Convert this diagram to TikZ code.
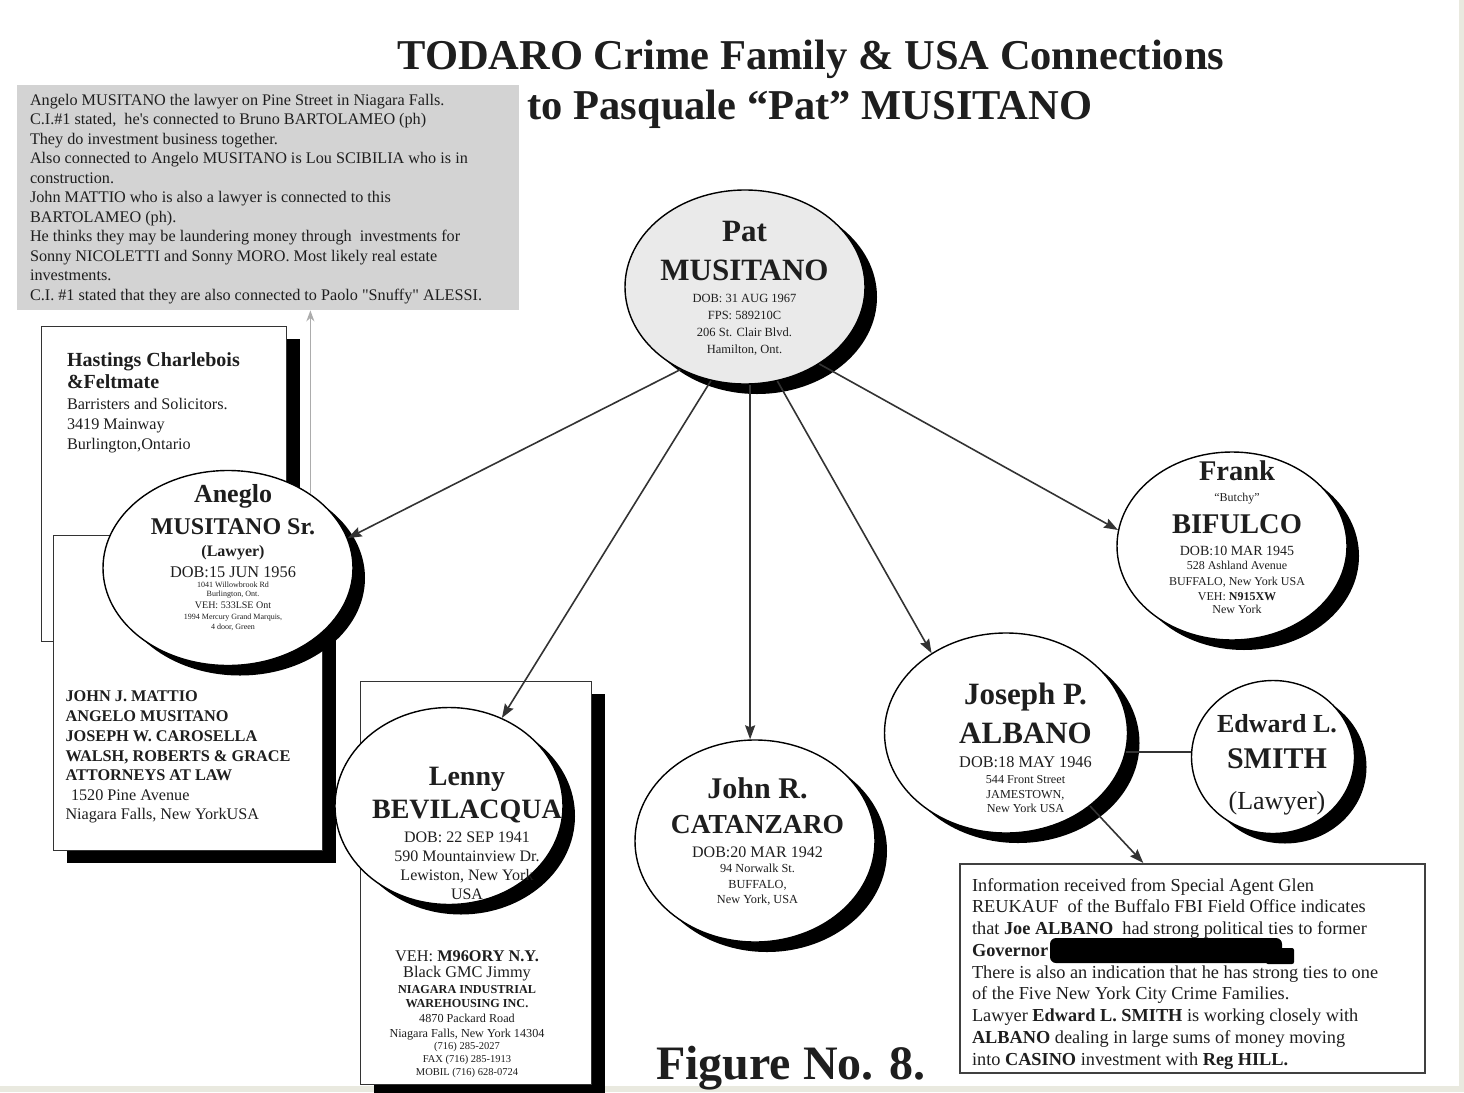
\documentclass[tikz,border=0pt]{standalone}
\usepackage{fontspec}
\setmainfont{Liberation Serif}[Ligatures=TeXOff]
\usetikzlibrary{shapes.geometric,shadows,arrows.meta}
\definecolor{ink}{HTML}{1E1E1E}
\definecolor{boxgray}{HTML}{D3D3D3}
\definecolor{patfill}{HTML}{EAEAEA}
\definecolor{edgebg}{HTML}{E9E9DF}
\definecolor{arrowc}{HTML}{333333}
\newcommand\fsz[1]{\fontsize{#1}{#1}\selectfont}
\newcounter{ln}
\newcommand\Ltxt[3]{\stepcounter{ln}\node[txt,anchor=base west] (ln\arabic{ln}) at (#1,#2) {#3};}
\newcommand\Ctxt[3]{\stepcounter{ln}\node[txt,anchor=base] (ln\arabic{ln}) at (#1,#2) {#3};}
\tikzset{
  txt/.style={inner sep=0pt, outer sep=0pt, text=ink},
  person/.style={ellipse, draw=black, line width=1.4pt, fill=white, inner sep=0pt,
    drop shadow={shadow xshift=12pt, shadow yshift=-10pt, fill=black, opacity=1}},
  card/.style={rectangle, draw=black!80, line width=1.3pt, fill=white, inner sep=0pt, anchor=north west,
    drop shadow={shadow xshift=13pt, shadow yshift=-12pt, fill=black, opacity=1}},
  link/.style={draw=arrowc, line width=1.6pt, -{Stealth[length=14pt,width=10pt,inset=2pt]}},
}
\begin{document}
\begin{tikzpicture}[x=1pt,y=-1pt]
\useasboundingbox (0,0) rectangle (1464,1092);
\fill[edgebg] (0,0) rectangle (1464,1092);
\fill[white] (0,0) rectangle (1459,1086);

% title
\Ctxt{811}{69}{\fsz{42.5}\bfseries TODARO Crime Family \& USA Connections}
\Ctxt{810}{119}{\fsz{42.5}\bfseries to Pasquale “Pat” MUSITANO}

% grey note
\node[rectangle, fill=boxgray, minimum width=502pt, minimum height=225pt, anchor=north west, inner sep=0pt] (gbox) at (17,85) {};
\Ltxt{30}{105}{\fsz{16.2}Angelo MUSITANO the lawyer on Pine Street in Niagara Falls.}
\Ltxt{30}{124.5}{\fsz{16.2}C.I.\#1 stated,\ \ he's connected to Bruno BARTOLAMEO (ph)}
\Ltxt{30}{144}{\fsz{16.2}They do investment business together.}
\Ltxt{30}{163.5}{\fsz{16.2}Also connected to Angelo MUSITANO is Lou SCIBILIA who is in}
\Ltxt{30}{183}{\fsz{16.2}construction.}
\Ltxt{30}{202.5}{\fsz{16.2}John MATTIO who is also a lawyer is connected to this}
\Ltxt{30}{222}{\fsz{16.2}BARTOLAMEO (ph).}
\Ltxt{30}{241.5}{\fsz{16.2}He thinks they may be laundering money through\ \ investments for}
\Ltxt{30}{261}{\fsz{16.2}Sonny NICOLETTI and Sonny MORO. Most likely real estate}
\Ltxt{30}{280.5}{\fsz{16.2}investments.}
\Ltxt{30}{300}{\fsz{16.2}C.I. \#1 stated that they are also connected to Paolo "Snuffy" ALESSI.}

% Hastings card
\node[card, minimum width=245pt, minimum height=315pt] (hast) at (41,326) {};
\Ltxt{67}{366}{\fsz{20}\bfseries Hastings Charlebois}
\Ltxt{67}{388}{\fsz{20}\bfseries \&Feltmate}
\Ltxt{67}{409}{\fsz{16.2}Barristers and Solicitors.}
\Ltxt{67}{429}{\fsz{16.2}3419 Mainway}
\Ltxt{67}{449}{\fsz{16.2}Burlington,Ontario}

% Mattio card
\node[card, minimum width=269pt, minimum height=315pt] (mattio) at (53,535) {};
\Ltxt{65.5}{701.5}{\fsz{16.3}\bfseries JOHN J. MATTIO}
\Ltxt{65.5}{721}{\fsz{16.3}\bfseries ANGELO MUSITANO}
\Ltxt{65.5}{741}{\fsz{16.3}\bfseries JOSEPH W. CAROSELLA}
\Ltxt{65.5}{761}{\fsz{16.3}\bfseries WALSH, ROBERTS \& GRACE}
\Ltxt{65.5}{780}{\fsz{16.3}\bfseries ATTORNEYS AT LAW}
\Ltxt{71}{800}{\fsz{16.2}1520 Pine Avenue}
\Ltxt{65.5}{819}{\fsz{16.2}Niagara Falls, New YorkUSA}

% Anglo
\node[person, minimum width=250pt, minimum height=195pt] (anglo) at (228,568) {};
\Ctxt{233}{502}{\fsz{26}\bfseries Aneglo}
\Ctxt{233}{534}{\fsz{24}\bfseries MUSITANO Sr.}
\Ctxt{233}{556}{\fsz{16}\bfseries (Lawyer)}
\Ctxt{233}{577}{\fsz{16.3}DOB:15 JUN 1956}
\Ctxt{233}{587}{\fsz{8}1041 Willowbrook Rd}
\Ctxt{233}{596.5}{\fsz{8}Burlington, Ont.}
\Ctxt{233}{608.5}{\fsz{10}VEH: 533LSE Ont}
\Ctxt{233}{619.5}{\fsz{8}1994 Mercury Grand Marquis,}
\Ctxt{233}{629.5}{\fsz{8}4 door, Green}

% Lenny card + ellipse
\node[card, minimum width=231pt, minimum height=403pt] (lbox) at (360,681) {};
\node[person, minimum width=228pt, minimum height=197pt] (lenny) at (449,806) {};
\Ctxt{467}{785}{\fsz{28}\bfseries Lenny}
\Ctxt{467}{818}{\fsz{28}\bfseries BEVILACQUA}
\Ctxt{467}{842}{\fsz{16}DOB: 22 SEP 1941}
\Ctxt{467}{861}{\fsz{16}590 Mountainview Dr.}
\Ctxt{467}{880}{\fsz{16}Lewiston, New York}
\Ctxt{467}{899}{\fsz{16}USA}
\Ctxt{467}{961}{\fsz{16.3}VEH: \textbf{M96ORY N.Y.}}
\Ctxt{467}{977}{\fsz{16.3}Black GMC Jimmy}
\Ctxt{467}{993}{\fsz{12.2}\bfseries NIAGARA INDUSTRIAL}
\Ctxt{467}{1007}{\fsz{12.2}\bfseries WAREHOUSING INC.}
\Ctxt{467}{1022}{\fsz{12.2}4870 Packard Road}
\Ctxt{467}{1037}{\fsz{12.2}Niagara Falls, New York 14304}
\Ctxt{467}{1049.5}{\fsz{10.5}(716) 285-2027}
\Ctxt{467}{1062.5}{\fsz{10.5}FAX (716) 285-1913}
\Ctxt{467}{1075}{\fsz{10.5}MOBIL (716) 628-0724}

% Catanzaro
\node[person, minimum width=240pt, minimum height=202pt] (cat) at (755,841) {};
\Ctxt{757.5}{798}{\fsz{30}\bfseries John R.}
\Ctxt{757.5}{833}{\fsz{27.5}\bfseries CATANZARO}
\Ctxt{757.5}{857}{\fsz{16}DOB:20 MAR 1942}
\Ctxt{757.5}{872}{\fsz{12.3}94 Norwalk St.}
\Ctxt{757.5}{888}{\fsz{12.3}BUFFALO,}
\Ctxt{757.5}{903}{\fsz{12.3}New York, USA}

% Albano
\node[person, minimum width=243pt, minimum height=200pt] (alb) at (1006,733) {};
\Ctxt{1025.5}{704}{\fsz{31}\bfseries Joseph P.}
\Ctxt{1025.5}{743}{\fsz{31}\bfseries ALBANO}
\Ctxt{1025.5}{767}{\fsz{16.3}DOB:18 MAY 1946}
\Ctxt{1025.5}{783}{\fsz{12.2}544 Front Street}
\Ctxt{1025.5}{798}{\fsz{12.2}JAMESTOWN,}
\Ctxt{1025.5}{812.5}{\fsz{12.2}New York USA}

% Smith
\node[person, minimum width=163pt, minimum height=153pt] (smith) at (1273,757) {};
\Ctxt{1277}{732}{\fsz{26}\bfseries Edward L.}
\Ctxt{1277}{768}{\fsz{30}\bfseries SMITH}
\Ctxt{1277}{809}{\fsz{26}(Lawyer)}

% Frank
\node[person, minimum width=230pt, minimum height=188pt] (frank) at (1232,546) {};
\Ctxt{1237}{480}{\fsz{28.5}\bfseries Frank}
\Ctxt{1237}{501}{\fsz{12}“Butchy”}
\Ctxt{1237}{533}{\fsz{28.5}\bfseries BIFULCO}
\Ctxt{1237}{555}{\fsz{14}DOB:10 MAR 1945}
\Ctxt{1237}{569}{\fsz{12}528 Ashland Avenue}
\Ctxt{1237}{585}{\fsz{12}BUFFALO, New York USA}
\Ctxt{1237}{600}{\fsz{12}VEH: \textbf{N915XW}}
\Ctxt{1237}{613.5}{\fsz{12}New York}

% Pat
\node[person, fill=patfill, minimum width=240pt, minimum height=194pt] (pat) at (745,287) {};
\Ctxt{744.5}{241}{\fsz{31}\bfseries Pat}
\Ctxt{744.5}{280}{\fsz{31}\bfseries MUSITANO}
\Ctxt{744.5}{302}{\fsz{12.5}DOB: 31 AUG 1967}
\Ctxt{744.5}{319}{\fsz{12.5}FPS: 589210C}
\Ctxt{744.5}{336}{\fsz{12.5}206 St. Clair Blvd.}
\Ctxt{744.5}{353}{\fsz{12.5}Hamilton, Ont.}

% info box
\node[rectangle, draw=black!75, line width=2pt, fill=white, minimum width=465pt, minimum height=209pt, anchor=north west, inner sep=0pt] (info) at (959,863) {};
\Ltxt{972}{891}{\fsz{18.3}Information received from Special Agent Glen}
\Ltxt{972}{912.75}{\fsz{18.3}REUKAUF\ \ of the Buffalo FBI Field Office indicates}
\Ltxt{972}{934.5}{\fsz{18.3}that \textbf{Joe ALBANO}\ \ had strong political ties to former}
\Ltxt{972}{956.25}{\fsz{18.3}\textbf{Governor}}
\Ltxt{972}{978}{\fsz{18.3}There is also an indication that he has strong ties to one}
\Ltxt{972}{999.75}{\fsz{18.3}of the Five New York City Crime Families.}
\Ltxt{972}{1021.5}{\fsz{18.3}Lawyer \textbf{Edward L. SMITH} is working closely with}
\Ltxt{972}{1043.25}{\fsz{18.3}\textbf{ALBANO} dealing in large sums of money moving}
\Ltxt{972}{1065}{\fsz{18.3}into \textbf{CASINO} investment with \textbf{Reg HILL.}}
\fill[black, rounded corners=6pt] (1050,938) rectangle (1282,963);
\fill[black, rounded corners=2pt] (1266,948) rectangle (1294,964);

% figure label
\Ctxt{791}{1079}{\fsz{48}\bfseries Figure No. 8.}

% connectors
\draw[draw=gray!65, line width=1.5pt, -{Stealth[length=11pt,width=8pt]}] (anglo.42) -- (anglo.42 |- gbox.south);
\draw[link] (pat.232) -- (anglo.14);
\draw[link] (pat.250) -- (lenny.59);
\draw[link] (pat.273) -- (pat.273 |- cat.north);
\draw[link] (pat.289) -- (alb.133);
\draw[link] (pat.314) -- (frank.172);
\draw[link] (alb.319) -- (info.115);
\draw[draw=arrowc, line width=1.5pt] (alb.-9) -- (alb.-9 -| smith.west);
\end{tikzpicture}
\end{document}
